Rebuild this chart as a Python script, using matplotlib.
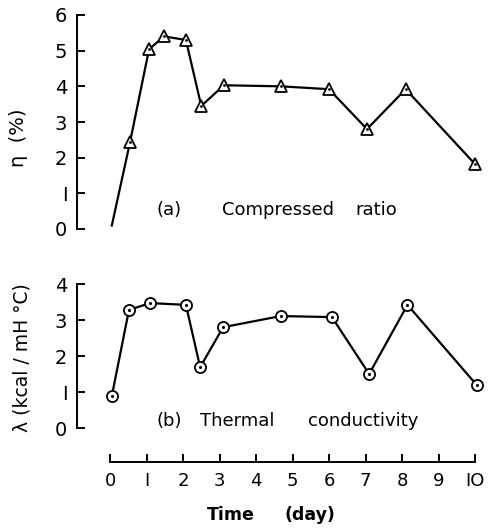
import matplotlib
matplotlib.use("Agg")
import matplotlib.pyplot as plt

# data
days_a = [0.05, 0.55, 1.07, 1.48, 2.08, 2.5, 3.12, 4.68, 6.0, 7.04, 8.1, 10.0]
eta = [0.1, 2.44, 5.04, 5.4, 5.3, 3.45, 4.03, 4.0, 3.92, 2.8, 3.92, 1.82]

days_b = [0.05, 0.52, 1.1, 2.08, 2.47, 3.1, 4.68, 6.08, 7.1, 8.15, 10.05]
lam = [0.89, 3.28, 3.47, 3.42, 1.69, 2.8, 3.11, 3.08, 1.5, 3.42, 1.19]

xticks = list(range(11))
xticklabels = ["0", "I", "2", "3", "4", "5", "6", "7", "8", "9", "IO"]

W, H = 488, 532
fig = plt.figure(figsize=(W / 100, H / 100), dpi=100)

def box(l, r, b, t):
    return [l / W, 1 - b / H, (r - l) / W, (b - t) / H]

x0, xs = 110, 36.5
xlim = ((77 - x0) / xs, (480 - x0) / xs)

ax1 = fig.add_axes(box(77, 480, 229, 15))
ax2 = fig.add_axes(box(77, 480, 428, 284))

for ax in (ax1, ax2):
    ax.set_xlim(*xlim)
    for s in ("top", "right"):
        ax.spines[s].set_visible(False)
    ax.spines["left"].set_linewidth(1.4)
    ax.tick_params(axis="y", direction="in", length=6, width=1.4, pad=7,
                   labelsize=14)

ax1.set_ylim(0, 6)
ax1.set_yticks(range(7))
ax1.set_yticklabels(["0", "I", "2", "3", "4", "5", "6"])
ax1.spines["bottom"].set_visible(False)
ax1.set_xticks([])

ax2.set_ylim(0, 4)
ax2.set_yticks(range(5))
ax2.set_yticklabels(["0", "I", "2", "3", "4"])
ax2.spines["bottom"].set_position(("outward", 24.5))
ax2.spines["bottom"].set_bounds(0, 10)
ax2.spines["bottom"].set_linewidth(1.4)
ax2.set_xticks(xticks)
ax2.set_xticklabels(xticklabels)
ax2.tick_params(axis="x", direction="in", length=6, width=1.4, pad=7,
                labelsize=13)

# (a) compressed ratio
ax1.plot(days_a, eta, color="black", lw=1.6, clip_on=False)
ax1.plot(days_a[1:], eta[1:], "^", ms=8, mfc="white", mec="black", mew=1.3,
         clip_on=False)
ax1.plot(days_a[1:], eta[1:], ".", ms=2, color="black", clip_on=False)

# (b) thermal conductivity
ax2.plot(days_b, lam, "-o", color="black", lw=1.6, ms=8, mfc="white",
         mec="black", mew=1.3, clip_on=False)
ax2.plot(days_b, lam, ".", ms=2.5, color="black", clip_on=False)

def ftext(x, y, s, **kw):
    fig.text(x / W, 1 - y / H, s, va="center", **kw)

ftext(157, 210, "(a)", fontsize=13)
ftext(222, 210, "Compressed", fontsize=13)
ftext(355, 210, "ratio", fontsize=13)

ftext(157, 421, "(b)", fontsize=13)
ftext(200, 421, "Thermal", fontsize=13)
ftext(308, 421, "conductivity", fontsize=13)

ftext(207, 515, "Time", fontsize=12.5, fontweight="bold")
ftext(284, 515, "(day)", fontsize=12.5, fontweight="bold")

fig.text(18 / W, 1 - 138 / H, "η  (%)", rotation=90, fontsize=14,
         ha="center", va="center")
fig.text(22 / W, 1 - 358 / H, "λ (kcal / mH °C)", rotation=90, fontsize=13.5,
         ha="center", va="center")

fig.savefig("out.png", dpi=100)
